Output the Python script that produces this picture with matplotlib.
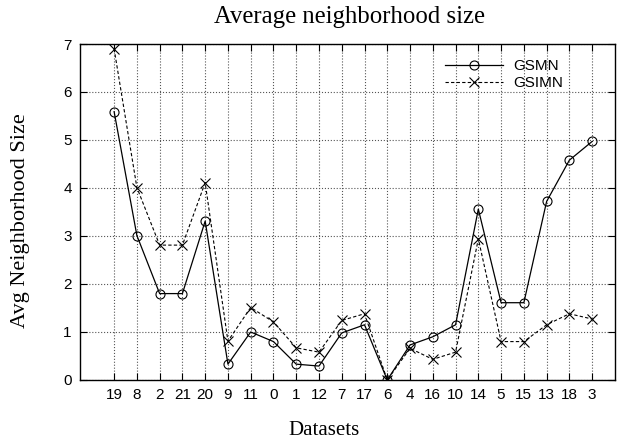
import numpy as np
import matplotlib
matplotlib.use('Agg')
import matplotlib.pyplot as plt


DATASETS = ['19', '8', '2', '21', '20', '9', '11', '0', '1', '12', '7',
            '17', '6', '4', '16', '10', '14', '5', '15', '13', '18', '3']

GSMN = [5.59, 3.01, 1.80, 1.80, 3.31, 0.33, 1.00, 0.80, 0.33, 0.29, 0.98,
        1.15, 0.00, 0.73, 0.90, 1.15, 3.56, 1.61, 1.61, 3.72, 4.58, 4.97]
GSIMN = [6.90, 4.01, 2.81, 2.81, 4.11, 0.81, 1.51, 1.21, 0.67, 0.58, 1.24,
         1.38, 0.00, 0.66, 0.43, 0.58, 2.94, 0.80, 0.80, 1.15, 1.38, 1.27]

SERIF = 'Liberation Serif'
SANS = 'Liberation Sans'


def main():
    fig = plt.figure(figsize=(6.18, 4.4), dpi=100)
    ax = fig.add_axes([0.1294, 0.1364, 0.8656, 0.7636])

    index = np.arange(len(DATASETS))

    ax.plot(index, GSMN, '-', color='black', linewidth=0.9,
            marker='o', markersize=6.5, markerfacecolor='none',
            markeredgewidth=0.8, label='GSMN')
    ax.plot(index, GSIMN, '--', color='black', linewidth=0.8,
            dashes=(3, 2), marker='x', markersize=6.5,
            markeredgewidth=0.8, label='GSIMN')

    ax.set_xlim(-1.5, len(DATASETS))
    ax.set_ylim(0, 7)
    ax.set_xticks(index)
    ax.set_xticklabels(DATASETS)
    ax.set_yticks(range(0, 8))

    ax.grid(True, linestyle=':', color='#555555', linewidth=0.8)
    ax.tick_params(direction='in', top=True, right=True, length=5,
                   width=0.8, labelsize=11, pad=6)
    for lab in ax.get_xticklabels() + ax.get_yticklabels():
        lab.set_fontfamily(SANS)
    for sp in ax.spines.values():
        sp.set_linewidth(1.0)

    # gnuplot-like placement of the title and axis labels
    fig.text(349 / 618, 1 - 17 / 440, 'Average neighborhood size',
             fontsize=17.8, fontfamily=SERIF, ha='center', va='center')
    fig.text(324 / 618, 1 - 430 / 440, 'Datasets',
             fontsize=15, fontfamily=SERIF, ha='center', va='center')
    fig.text(21 / 618, 1 - 221 / 440, 'Avg Neighborhood Size',
             fontsize=16, fontfamily=SERIF, ha='center', va='center',
             rotation=90)

    ax.legend(loc='upper left', bbox_to_anchor=(0.6822, 0.955),
              frameon=False, prop={'family': SANS, 'size': 11},
              handlelength=3.8, handletextpad=0.65, labelspacing=0.2,
              borderpad=0, borderaxespad=0)

    fig.savefig('out.png', dpi=100)


if __name__ == '__main__':
    main()
